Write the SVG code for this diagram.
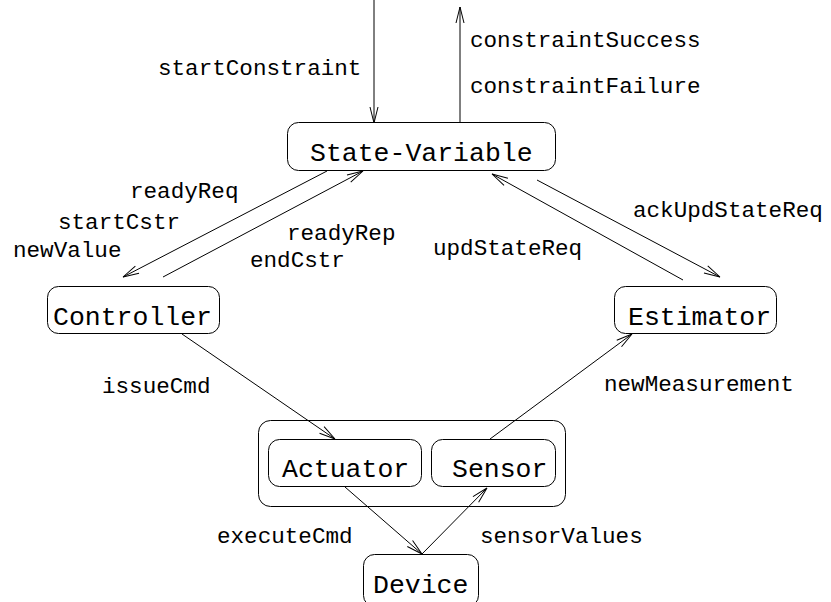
<svg xmlns="http://www.w3.org/2000/svg" width="831" height="602" viewBox="0 0 831 602">
<style>
.box{fill:#fff;stroke:#000;stroke-width:1}
.nt{font-family:"Liberation Mono",monospace;font-size:26.5px;fill:#000}
.lb{font-family:"Liberation Mono",monospace;font-size:22.6px;fill:#000}
.c line{stroke:#000;stroke-width:1;fill:none;marker-end:url(#ah)}
</style>
<defs>
<marker id="ah" markerUnits="userSpaceOnUse" viewBox="-17 -6 18 12" refX="0" refY="0" markerWidth="18" markerHeight="12" orient="auto" overflow="visible">
<path d="M-16,-4 L0,0 L-16,4" fill="none" stroke="#000" stroke-width="1"/>
</marker>
</defs>
<rect width="831" height="602" fill="#fff"/>
<g id="state-variable"><rect class="box" x="287.5" y="122.5" width="268" height="48" rx="11"/><text class="nt" x="310" y="161">State-Variable</text></g>
<g id="controller"><rect class="box" x="47.5" y="286.5" width="172" height="47" rx="11"/><text class="nt" x="53" y="325">Controller</text></g>
<g id="estimator"><rect class="box" x="614.5" y="286.5" width="162" height="47" rx="11"/><text class="nt" x="628" y="325">Estimator</text></g>
<g id="hardware"><rect class="box" x="258.5" y="420.5" width="307" height="86" rx="12"/>
<g id="actuator"><rect class="box" x="268.5" y="439.5" width="153" height="47" rx="11"/><text class="nt" x="282" y="477">Actuator</text></g>
<g id="sensor"><rect class="box" x="431.5" y="439.5" width="124" height="47" rx="11"/><text class="nt" x="452" y="477">Sensor</text></g>
</g>
<g id="device"><rect class="box" x="363.5" y="554.5" width="115" height="52" rx="11"/><text class="nt" x="373" y="593">Device</text></g>
<g class="c" id="connectors">
<line x1="374" y1="0" x2="374" y2="123"/>
<line x1="460" y1="122" x2="460" y2="7"/>
<line x1="327" y1="171" x2="123" y2="277"/>
<line x1="163" y1="277" x2="363" y2="171"/>
<line x1="683" y1="280" x2="492" y2="174"/>
<line x1="537" y1="180" x2="720" y2="277"/>
<line x1="182" y1="334" x2="335" y2="439"/>
<line x1="490" y1="439" x2="632" y2="334"/>
<line x1="345" y1="487" x2="422" y2="554"/>
<line x1="422" y1="554" x2="487" y2="488"/>
</g>
<g id="labels">
<text class="lb" x="158" y="75">startConstraint</text>
<text class="lb" x="470" y="47">constraintSuccess</text>
<text class="lb" x="470" y="93">constraintFailure</text>
<text class="lb" x="130" y="198">readyReq</text>
<text class="lb" x="58" y="229">startCstr</text>
<text class="lb" x="13" y="257">newValue</text>
<text class="lb" x="287" y="240">readyRep</text>
<text class="lb" x="250" y="267">endCstr</text>
<text class="lb" x="633" y="217">ackUpdStateReq</text>
<text class="lb" x="433" y="255">updStateReq</text>
<text class="lb" x="102" y="393">issueCmd</text>
<text class="lb" x="604" y="391">newMeasurement</text>
<text class="lb" x="217" y="543">executeCmd</text>
<text class="lb" x="480" y="543">sensorValues</text>
</g>
</svg>
